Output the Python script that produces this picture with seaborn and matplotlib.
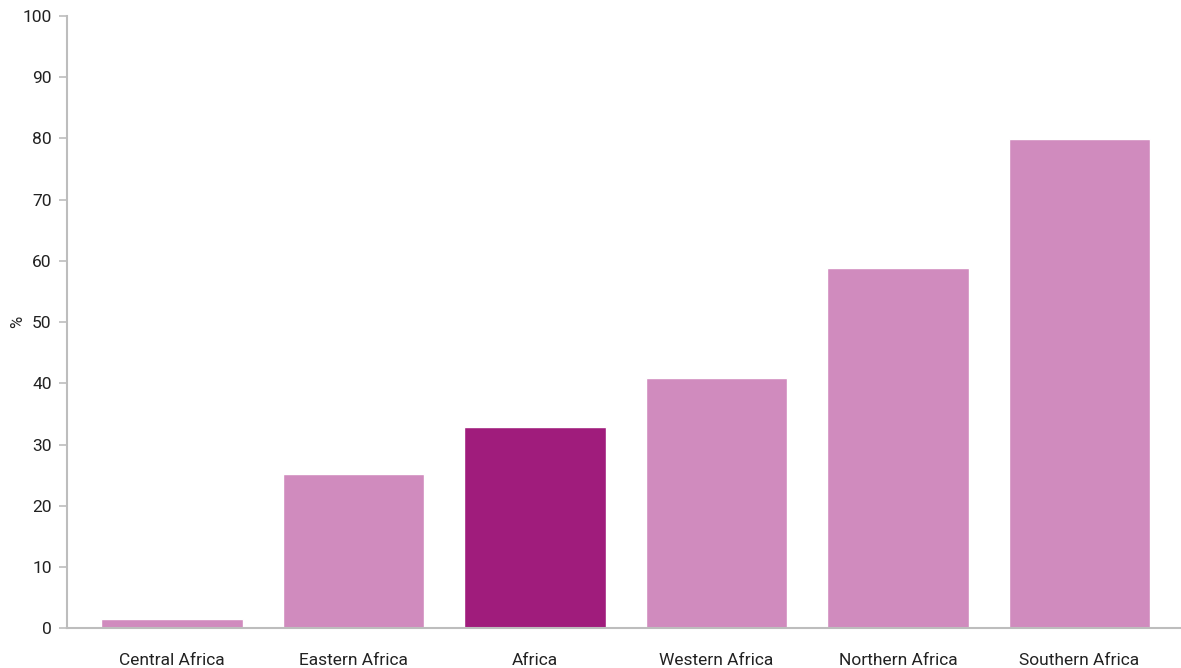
import matplotlib
matplotlib.use("Agg")
import matplotlib.pyplot as plt
import seaborn as sns
import pandas as pd

regions = ["Central Africa", "Eastern Africa", "Africa", "Western Africa",
           "Northern Africa", "Southern Africa"]
shares = [1.6, 25.2, 32.9, 40.9, 58.8, 79.9]
bar_colors = ["#D08BBE", "#D08BBE", "#A01C7C", "#D08BBE", "#D08BBE", "#D08BBE"]
y_ticks = [0, 10, 20, 30, 40, 50, 60, 70, 80, 90, 100]

sns.set_style("white")
plt.rcParams["font.family"] = ["Roboto", "DejaVu Sans"]

df = pd.DataFrame({"region": regions, "share": shares})

fig = plt.figure(figsize=(11.81, 6.68), dpi=100)
ax = fig.add_axes([0.0567, 0.0594, 0.9433, 0.9166])

sns.barplot(data=df, x="region", y="share", hue="region", palette=bar_colors,
            legend=False, width=0.78, saturation=1, ax=ax)

ax.set_xlim(-0.58, 5.56)
ax.set_ylim(0, 100)
ax.set_yticks(y_ticks)
ax.set_xlabel("")
ax.set_ylabel("%", fontsize=12, color="#222222")
ax.yaxis.set_label_coords(-0.038, 0.5)

grey = "#BDBDBD"
for side in ["top", "right"]:
    ax.spines[side].set_visible(False)
for side in ["left", "bottom"]:
    ax.spines[side].set_color(grey)
    ax.spines[side].set_linewidth(1.5)

ax.tick_params(axis="y", left=True, length=6, width=1.2, color=grey,
               labelsize=12.5, labelcolor="#222222", pad=5)
ax.tick_params(axis="x", bottom=False, labelsize=12.5, labelcolor="#222222", pad=14)

fig.savefig("out.png", dpi=100)
